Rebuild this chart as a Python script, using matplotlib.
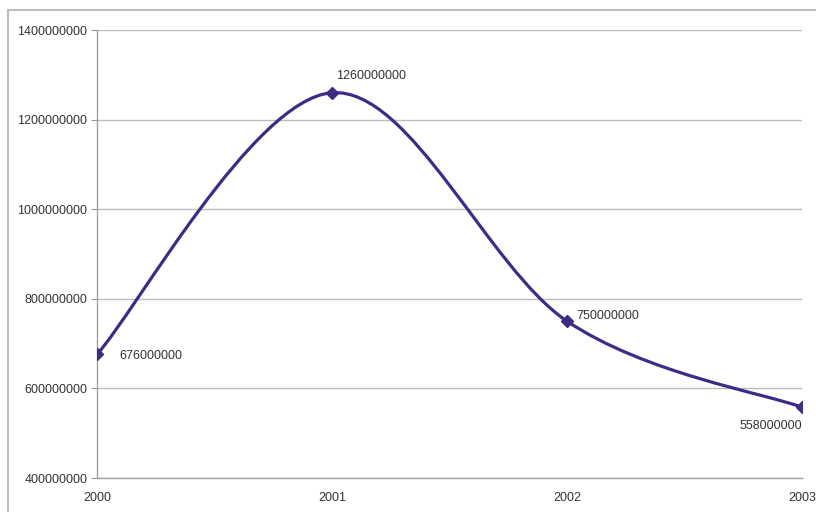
import matplotlib.pyplot as plt
from matplotlib.path import Path
from matplotlib.patches import PathPatch
from matplotlib.lines import Line2D
import numpy as np

years = ['2000', '2001', '2002', '2003']
values = [676000000, 1260000000, 750000000, 558000000]
y_ticks = [400000000, 600000000, 800000000, 1000000000, 1200000000, 1400000000]

line_color = '#3f2a86'
text_color = '#333333'

plt.rcParams['font.family'] = ['Liberation Sans', 'DejaVu Sans']
plt.rcParams['font.size'] = 9


def smooth_path(xs, ys):
    # cubic bezier segments through every point (catmull-rom style tangents)
    pts = np.column_stack([xs, ys]).astype(float)
    padded = np.vstack([pts[0], pts, pts[-1]])
    verts = [tuple(pts[0])]
    codes = [Path.MOVETO]
    for i in range(len(pts) - 1):
        p0, p1, p2, p3 = padded[i], padded[i + 1], padded[i + 2], padded[i + 3]
        c1 = p1 + (p2 - p0) / 6.0
        c2 = p2 - (p3 - p1) / 6.0
        verts += [tuple(c1), tuple(c2), tuple(p2)]
        codes += [Path.CURVE4] * 3
    return Path(verts, codes)


fig = plt.figure(figsize=(8.16, 5.12), dpi=100)
ax = fig.add_axes([0.1189, 0.0664, 0.864, 0.875])

x = np.arange(len(years))
ax.add_patch(PathPatch(smooth_path(x, values), facecolor='none',
                       edgecolor=line_color, lw=2.3, capstyle='round', zorder=3))
ax.plot(x, values, linestyle='none', marker='D', markersize=6.5,
        color=line_color, zorder=4)

# value labels
offsets = [(16, -1, 'left', 'center'), (3, 8, 'left', 'bottom'),
           (7, 4, 'left', 'center'), (0, -9, 'right', 'top')]
for xi, v, (dx, dy, ha, va) in zip(x, values, offsets):
    ax.annotate(str(v), (xi, v), xytext=(dx, dy), textcoords='offset points',
                ha=ha, va=va, color=text_color, fontsize=9)

ax.set_xlim(0, len(years) - 1)
ax.set_ylim(400000000, 1400000000)
ax.set_xticks(x)
ax.set_xticklabels(years)
ax.set_yticks(y_ticks)
ax.set_yticklabels([str(t) for t in y_ticks])
ax.tick_params(axis='y', length=4, color='#999999', labelcolor=text_color,
               labelsize=9, pad=3)
ax.tick_params(axis='x', length=0, labelcolor=text_color, labelsize=9, pad=10)

ax.grid(axis='y', color='#bcbcbc', lw=1.0)
ax.set_axisbelow(True)
for side in ['top', 'right']:
    ax.spines[side].set_visible(False)
for side in ['left', 'bottom']:
    ax.spines[side].set_color('#a0a0a0')
    ax.spines[side].set_linewidth(1.0)

# chart area border
fig.add_artist(Line2D([8 / 816, 1.0], [1 - 10 / 512, 1 - 10 / 512],
                      color='#bdbdbd', lw=1.5))
fig.add_artist(Line2D([8 / 816, 8 / 816], [0.0, 1 - 10 / 512],
                      color='#bdbdbd', lw=1.5))

fig.savefig('out.png', dpi=100)
